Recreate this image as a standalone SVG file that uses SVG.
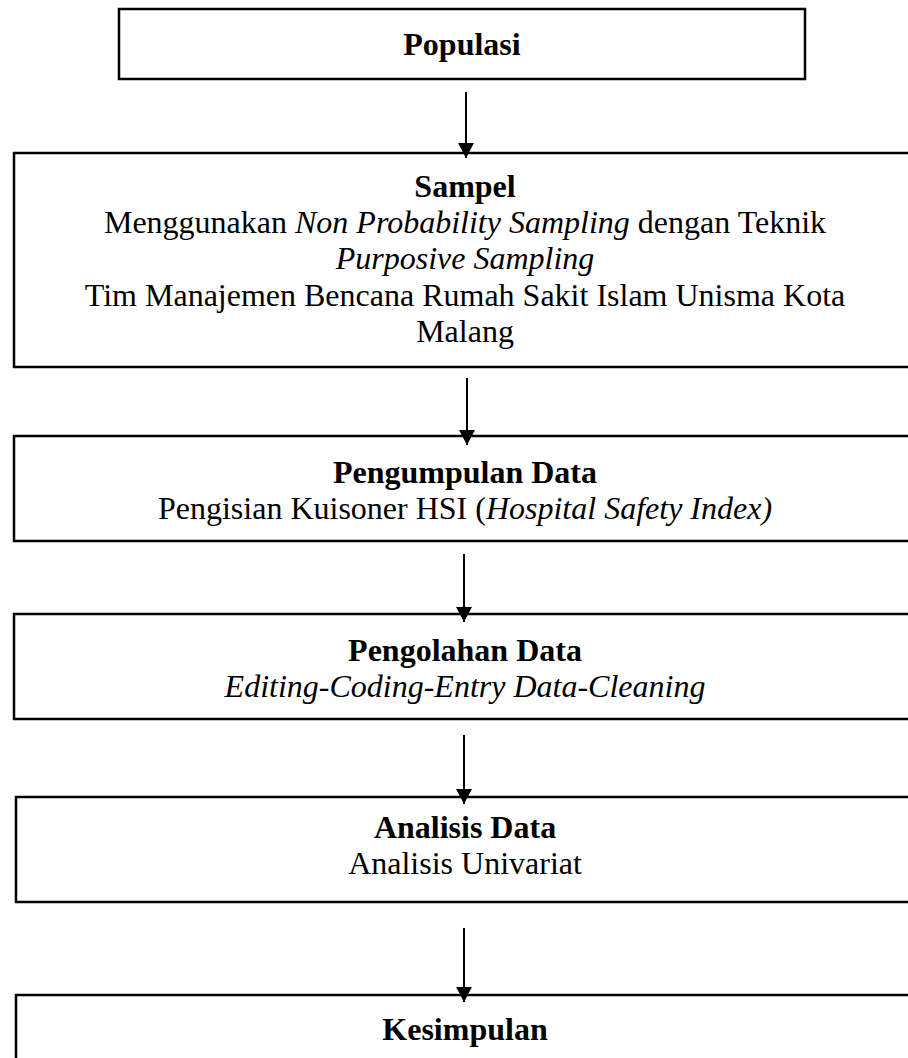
<svg xmlns="http://www.w3.org/2000/svg" width="908" height="1058" viewBox="0 0 908 1058">
<style>
.box{fill:#ffffff;stroke:#000000;stroke-width:2.5}
.t{font-family:"Liberation Serif","Times New Roman",serif;font-size:32px;fill:#000000;text-anchor:middle}
.b{font-weight:bold}
.i{font-style:italic}
.conn{stroke:#000000;stroke-width:2;fill:none}
</style>
<defs>
<marker id="ah" markerUnits="userSpaceOnUse" markerWidth="16" markerHeight="16" refX="15" refY="8" orient="auto">
<path d="M0,0 L15,8 L0,16 Z" fill="#000000"/>
</marker>
</defs>
<rect width="908" height="1058" fill="#ffffff"/>
<g id="populasi">
<rect class="box" x="119" y="9" width="686" height="70"/>
<text class="t b" x="462" y="55">Populasi</text>
</g>
<g id="sampel">
<rect class="box" x="14" y="153" width="904" height="214"/>
<text class="t b" x="465" y="197">Sampel</text>
<text class="t" x="465" y="233">Menggunakan <tspan class="i">Non Probability Sampling</tspan> dengan Teknik</text>
<text class="t i" x="465" y="269">Purposive Sampling</text>
<text class="t" x="465" y="306">Tim Manajemen Bencana Rumah Sakit Islam Unisma Kota</text>
<text class="t" x="465" y="342">Malang</text>
</g>
<g id="pengumpulan">
<rect class="box" x="14" y="436" width="904" height="105"/>
<text class="t b" x="465" y="483">Pengumpulan Data</text>
<text class="t" x="465" y="519">Pengisian Kuisoner HSI (<tspan class="i">Hospital Safety Index)</tspan></text>
</g>
<g id="pengolahan">
<rect class="box" x="14" y="614" width="904" height="105"/>
<text class="t b" x="465" y="661">Pengolahan Data</text>
<text class="t i" x="465" y="697">Editing-Coding-Entry Data-Cleaning</text>
</g>
<g id="analisis">
<rect class="box" x="16" y="797" width="902" height="105"/>
<text class="t b" x="465" y="838">Analisis Data</text>
<text class="t" x="465" y="874">Analisis Univariat</text>
</g>
<g id="kesimpulan">
<rect class="box" x="16" y="995" width="902" height="80"/>
<text class="t b" x="465" y="1040">Kesimpulan</text>
</g>
<g id="connectors">
<line class="conn" x1="466" y1="92" x2="466" y2="158" marker-end="url(#ah)"/>
<line class="conn" x1="467" y1="378" x2="467" y2="445" marker-end="url(#ah)"/>
<line class="conn" x1="464" y1="554" x2="464" y2="622" marker-end="url(#ah)"/>
<line class="conn" x1="464" y1="735" x2="464" y2="804" marker-end="url(#ah)"/>
<line class="conn" x1="464" y1="928" x2="464" y2="1002" marker-end="url(#ah)"/>
</g>
</svg>
